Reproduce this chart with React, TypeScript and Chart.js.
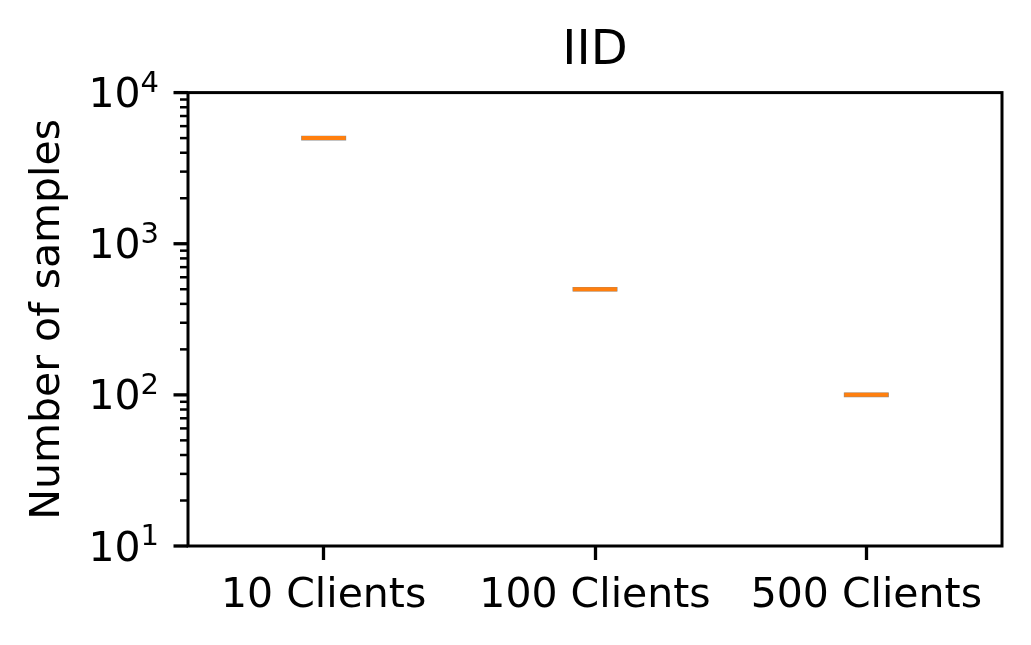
import { useEffect, useRef } from 'react';
import { Chart, registerables } from 'chart.js';

Chart.register(...registerables);

const categories = ['10 Clients', '100 Clients', '500 Clients'];
const sampleCounts = [5000, 500, 100];
const yMajorExponents = [1, 2, 3, 4];
const yMinorMultipliers = [2, 3, 4, 5, 6, 7, 8, 9];

const FONT = "'DejaVu Sans', sans-serif";
const ORANGE = '#ff7f0e';

const mplAxesPlugin = {
  id: 'mplAxes',
  afterDraw(chart: any) {
    const { ctx, chartArea: a, scales } = chart;
    const y = scales.y;
    ctx.save();
    // spines
    ctx.strokeStyle = '#000';
    ctx.lineWidth = 3;
    ctx.strokeRect(a.left, a.top, a.right - a.left, a.bottom - a.top);

    // y minor ticks
    ctx.lineWidth = 2.5;
    for (let e = yMajorExponents[0]; e < yMajorExponents[yMajorExponents.length - 1]; e++) {
      for (const m of yMinorMultipliers) {
        const py = y.getPixelForValue(m * Math.pow(10, e));
        ctx.beginPath();
        ctx.moveTo(a.left - 8, py);
        ctx.lineTo(a.left, py);
        ctx.stroke();
      }
    }
    // y major ticks + labels
    ctx.lineWidth = 3.3;
    ctx.fillStyle = '#000';
    for (const e of yMajorExponents) {
      const py = y.getPixelForValue(Math.pow(10, e));
      ctx.beginPath();
      ctx.moveTo(a.left - 14.5, py);
      ctx.lineTo(a.left, py);
      ctx.stroke();
      const right = a.left - 29;
      ctx.textAlign = 'right';
      ctx.textBaseline = 'alphabetic';
      ctx.font = `29px ${FONT}`;
      const expText = String(e);
      const we = ctx.measureText(expText).width;
      ctx.fillText(expText, right, py - 1);
      ctx.font = `41px ${FONT}`;
      ctx.fillText('10', right - we, py + 14.5);
    }
    ctx.restore();
  },
};

export default function App() {
  const ref = useRef<HTMLCanvasElement | null>(null);

  useEffect(() => {
    if (!ref.current) return;
    const chart = new Chart(ref.current, {
      type: 'line',
      data: {
        labels: categories,
        datasets: [
          {
            data: sampleCounts,
            showLine: false,
            pointStyle: 'line',
            pointRadius: 22.5,
            pointHoverRadius: 22.5,
            pointBorderWidth: 4.6,
            pointHoverBorderWidth: 4.6,
            pointBorderColor: '#8a8a8a',
            borderColor: '#8a8a8a',
            order: 2,
          },
          {
            data: sampleCounts,
            showLine: false,
            pointStyle: 'line',
            pointRadius: 22,
            pointHoverRadius: 22,
            pointBorderWidth: 4,
            pointHoverBorderWidth: 4,
            pointBorderColor: ORANGE,
            borderColor: ORANGE,
            order: 1,
          },
        ],
      },
      options: {
        animation: false,
        responsive: false,
        devicePixelRatio: 1,
        events: [],
        layout: { padding: { left: 0, right: 29, top: 0, bottom: 0 } },
        plugins: {
          legend: { display: false },
          tooltip: { enabled: false },
          title: {
            display: true,
            text: 'IID',
            fullSize: false,
            color: '#000',
            font: { family: FONT, size: 48, weight: 'normal', lineHeight: 1.2 },
            padding: { top: 23, bottom: 12 },
          },
        },
        scales: {
          x: {
            type: 'category',
            offset: true,
            border: { display: false },
            grid: {
              display: true,
              drawOnChartArea: false,
              drawTicks: true,
              offset: false,
              tickLength: 14,
              tickWidth: 3.3,
              tickColor: '#000',
              color: '#000',
            },
            ticks: {
              color: '#000',
              font: { family: FONT, size: 41 },
              padding: 12,
              maxRotation: 0,
              autoSkip: false,
            },
            afterFit: (s: any) => {
              s.height = 99;
            },
          },
          y: {
            type: 'logarithmic',
            min: 10,
            max: 10000,
            border: { display: false },
            grid: { display: false },
            ticks: { display: false },
            title: {
              display: true,
              text: 'Number of samples',
              color: '#000',
              font: { family: FONT, size: 41, lineHeight: 1.2 },
              padding: { top: 24, bottom: 0 },
            },
            afterFit: (s: any) => {
              s.width = 188;
            },
          },
        },
      },
      plugins: [mplAxesPlugin],
    } as any);
    return () => chart.destroy();
  }, []);

  return (
    <div style={{ position: 'absolute', left: 0, top: 0, width: 1031, height: 645, background: '#fff' }}>
      <canvas ref={ref} width={1031} height={645} style={{ display: 'block' }} />
    </div>
  );
}
